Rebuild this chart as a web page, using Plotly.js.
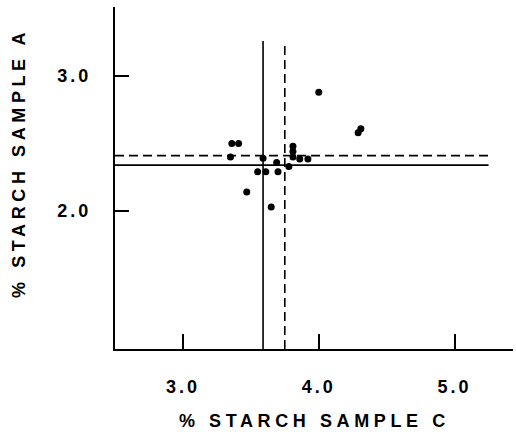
<!DOCTYPE html>
<html>
<head>
<meta charset="utf-8">
<script src="https://cdn.plot.ly/plotly-3.0.1.min.js"></script>
<style>
html, body { margin: 0; padding: 0; background: #fff; }
#chart text { letter-spacing: 3px; }
#chart .annotation text { letter-spacing: 4.6px; }
</style>
</head>
<body>
<div id="chart" style="width:516px;height:435px;"></div>
<script>
// Data
var starchC = [4.00, 4.29, 4.31, 3.36, 3.41, 3.35, 3.59, 3.69, 3.55, 3.61, 3.70, 3.78, 3.81, 3.81, 3.81, 3.86, 3.92, 3.47, 3.65];
var starchA = [2.88, 2.58, 2.61, 2.50, 2.50, 2.40, 2.39, 2.36, 2.29, 2.29, 2.29, 2.33, 2.48, 2.44, 2.40, 2.385, 2.385, 2.14, 2.03];

// Reference lines (solid and dashed)
var solidLineC = 3.59;
var dashedLineC = 3.75;
var solidLineA = 2.34;
var dashedLineA = 2.41;
var verticalLineTop = 3.26;
var horizontalLineEnd = 5.25;

var xTickVals = [3, 4, 5];
var xTickText = ["3.0", "4.0", "5.0"];
var yTickVals = [2, 3];
var yTickText = ["2.0", "3.0"];

var xRange = [2.5, 5.43];
var yRange = [0.978, 3.511];

var lineSolid = {color: '#000', width: 1.6};
var lineDashed = {color: '#000', width: 1.6, dash: '9px,5px'};

var traces = [
  {x: [solidLineC, solidLineC], y: [yRange[0], verticalLineTop], mode: 'lines', line: lineSolid, hoverinfo: 'skip'},
  {x: [dashedLineC, dashedLineC], y: [yRange[0], verticalLineTop], mode: 'lines', line: lineDashed, hoverinfo: 'skip'},
  {x: [xRange[0], horizontalLineEnd], y: [solidLineA, solidLineA], mode: 'lines', line: lineSolid, hoverinfo: 'skip'},
  {x: [xRange[0], horizontalLineEnd], y: [dashedLineA, dashedLineA], mode: 'lines', line: lineDashed, hoverinfo: 'skip'},
  {x: starchC, y: starchA, mode: 'markers', marker: {color: '#000', size: 7}}
];

var fontMain = {family: 'Liberation Sans, Arial, sans-serif', size: 18, color: '#000', weight: 'bold'};

var layout = {
  width: 516, height: 435,
  margin: {l: 115, r: 3, t: 7, b: 86},
  paper_bgcolor: '#fff', plot_bgcolor: '#fff',
  showlegend: false,
  font: fontMain,
  xaxis: {
    range: xRange, tickvals: xTickVals, ticktext: xTickText,
    ticks: 'inside', ticklen: 15, tickwidth: 2, tickcolor: '#000',
    showline: true, linewidth: 2, linecolor: '#000',
    showgrid: false, zeroline: false, ticklabelstandoff: 20,
    tickfont: fontMain
  },
  yaxis: {
    range: yRange, tickvals: yTickVals, ticktext: yTickText,
    ticks: 'inside', ticklen: 14, tickwidth: 2, tickcolor: '#000',
    showline: true, linewidth: 2, linecolor: '#000',
    showgrid: false, zeroline: false, ticklabelstandoff: 18,
    tickfont: fontMain
  },
  annotations: [
    {text: '% STARCH SAMPLE C', xref: 'paper', yref: 'paper', x: 0.5, y: -0.21,
     xanchor: 'center', yanchor: 'middle', showarrow: false, font: fontMain},
    {text: '% STARCH SAMPLE A', xref: 'paper', yref: 'paper', x: -0.243, y: 0.545,
     xanchor: 'center', yanchor: 'middle', showarrow: false, textangle: -90, font: fontMain}
  ]
};

Plotly.newPlot('chart', traces, layout, {displayModeBar: false, staticPlot: true});
</script>
</body>
</html>
